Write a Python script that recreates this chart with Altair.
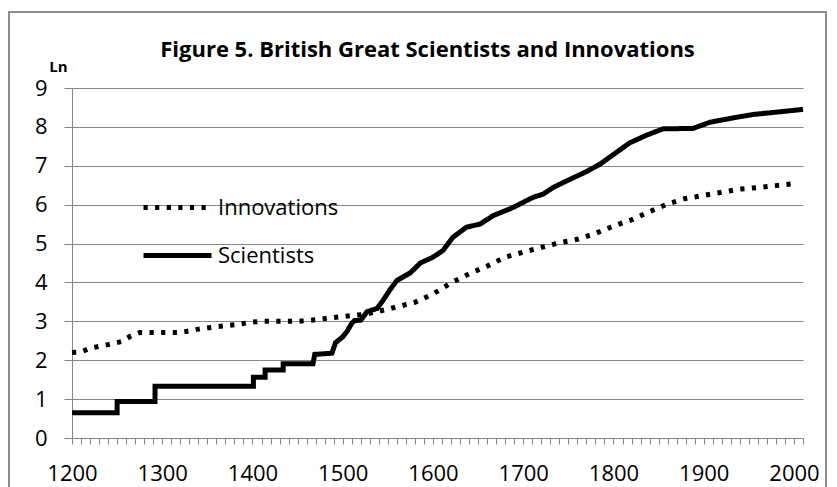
import altair as alt
import pandas as pd

series_names = ["Innovations", "Scientists"]

inn_years = [1200, 1210, 1220, 1240, 1255, 1265, 1275, 1320, 1340, 1360, 1380, 1400, 1410,
             1450, 1470, 1490, 1510, 1525, 1540, 1560, 1580, 1600, 1620, 1640, 1660, 1680,
             1700, 1720, 1740, 1760, 1780, 1800, 1820, 1840, 1860, 1880, 1900, 1920, 1940,
             1960, 1980, 2000]
inn_values = [2.20, 2.21, 2.31, 2.40, 2.48, 2.62, 2.71, 2.71, 2.80, 2.86, 2.91, 2.98, 3.00,
              3.00, 3.04, 3.10, 3.15, 3.18, 3.26, 3.37, 3.49, 3.70, 3.99, 4.22, 4.42, 4.65,
              4.78, 4.90, 5.02, 5.11, 5.26, 5.45, 5.61, 5.82, 6.02, 6.16, 6.24, 6.32, 6.40,
              6.44, 6.49, 6.54]

sci_years = [1200, 1250, 1250, 1292, 1292, 1401, 1401, 1414, 1414, 1434,
             1434, 1467, 1469, 1488, 1492, 1500, 1505, 1510, 1513, 1520,
             1527, 1538, 1545, 1552, 1560, 1575, 1586, 1600, 1611, 1622,
             1637, 1652, 1667, 1689, 1711, 1722, 1733, 1748, 1770, 1785,
             1800, 1818, 1837, 1855, 1888, 1907, 1937, 1955, 1981, 2010]
sci_values = [0.65, 0.65, 0.94, 0.94, 1.33, 1.33, 1.56, 1.56, 1.75, 1.75,
              1.91, 1.91, 2.15, 2.18, 2.45, 2.60, 2.75, 2.95, 3.02, 3.03,
              3.25, 3.33, 3.55, 3.80, 4.05, 4.25, 4.50, 4.65, 4.82, 5.16,
              5.42, 5.50, 5.72, 5.93, 6.19, 6.27, 6.44, 6.61, 6.85, 7.04,
              7.29, 7.59, 7.79, 7.95, 7.96, 8.12, 8.25, 8.32, 8.38, 8.45]

x_ticks = list(range(1200, 2011, 10))
y_ticks = list(range(0, 10))

rows = []
for i, (yr, v) in enumerate(zip(inn_years, inn_values)):
    rows.append({"series": "Innovations", "year": yr, "ln": v, "order": i})
for i, (yr, v) in enumerate(zip(sci_years, sci_values)):
    rows.append({"series": "Scientists", "year": yr, "ln": v, "order": i})
df = pd.DataFrame(rows)

GRAY = "#868686"
FONT = "Open Sans"

legend = alt.Legend(
    title=None, orient="none", legendX=69, legendY=83,
    symbolType="stroke", symbolSize=4624, symbolStrokeWidth=5,
    symbolStrokeColor="black",
    labelFont=FONT, labelFontSize=22, labelColor="black", labelOffset=4,
    padding=0, rowPadding=0,
)

lines = alt.Chart(df).mark_line(color="black", strokeWidth=5).encode(
    x=alt.X("year:Q", title=None,
            scale=alt.Scale(domain=[1200, 2010], nice=False, zero=False),
            axis=alt.Axis(values=x_ticks,
                          labelExpr="datum.value % 100 === 0 ? format(datum.value, 'd') : ''",
                          grid=False, domainColor=GRAY, tickColor=GRAY, tickSize=6,
                          labelFont=FONT, labelFontSize=22, labelColor="black",
                          labelPadding=19, labelOverlap=False, labelFlush=False)),
    y=alt.Y("ln:Q",
            scale=alt.Scale(domain=[0, 9], nice=False),
            axis=alt.Axis(values=y_ticks, format="d", grid=True, gridColor=GRAY,
                          domainColor=GRAY, tickColor=GRAY, tickSize=8,
                          labelFont=FONT, labelFontSize=22, labelColor="black",
                          labelPadding=17,
                          title="Ln", titleFont=FONT, titleFontSize=15, titleFontWeight="bold",
                          titleColor="black", titleAngle=0, titleX=-14, titleY=-17,
                          titleAlign="center", titleBaseline="alphabetic")),
    strokeDash=alt.StrokeDash("series:N",
                              scale=alt.Scale(domain=series_names, range=[[4.2, 7.4], [1, 0]]),
                              legend=legend),
    order="order:Q",
)

frame = alt.Chart(df).mark_rect(fill="transparent", stroke="#8c8c8c", strokeWidth=1.5).encode(
    x=alt.value(-63), x2=alt.value(754), y=alt.value(-76), y2=alt.value(440)
)

chart = alt.layer(frame, lines).properties(
    width=731, height=350,
    autosize=alt.AutoSizeParams(type="none"),
    padding={"left": 64, "top": 80, "right": 24, "bottom": 52},
    title=alt.TitleParams("Figure 5. British Great Scientists and Innovations",
                          font=FONT, fontSize=22, fontWeight="bold", color="black",
                          anchor="middle", dx=-10, offset=-68, baseline="alphabetic"),
).configure_view(strokeOpacity=0)

chart.save("out.html", embed_options={"renderer": "svg", "actions": False})
